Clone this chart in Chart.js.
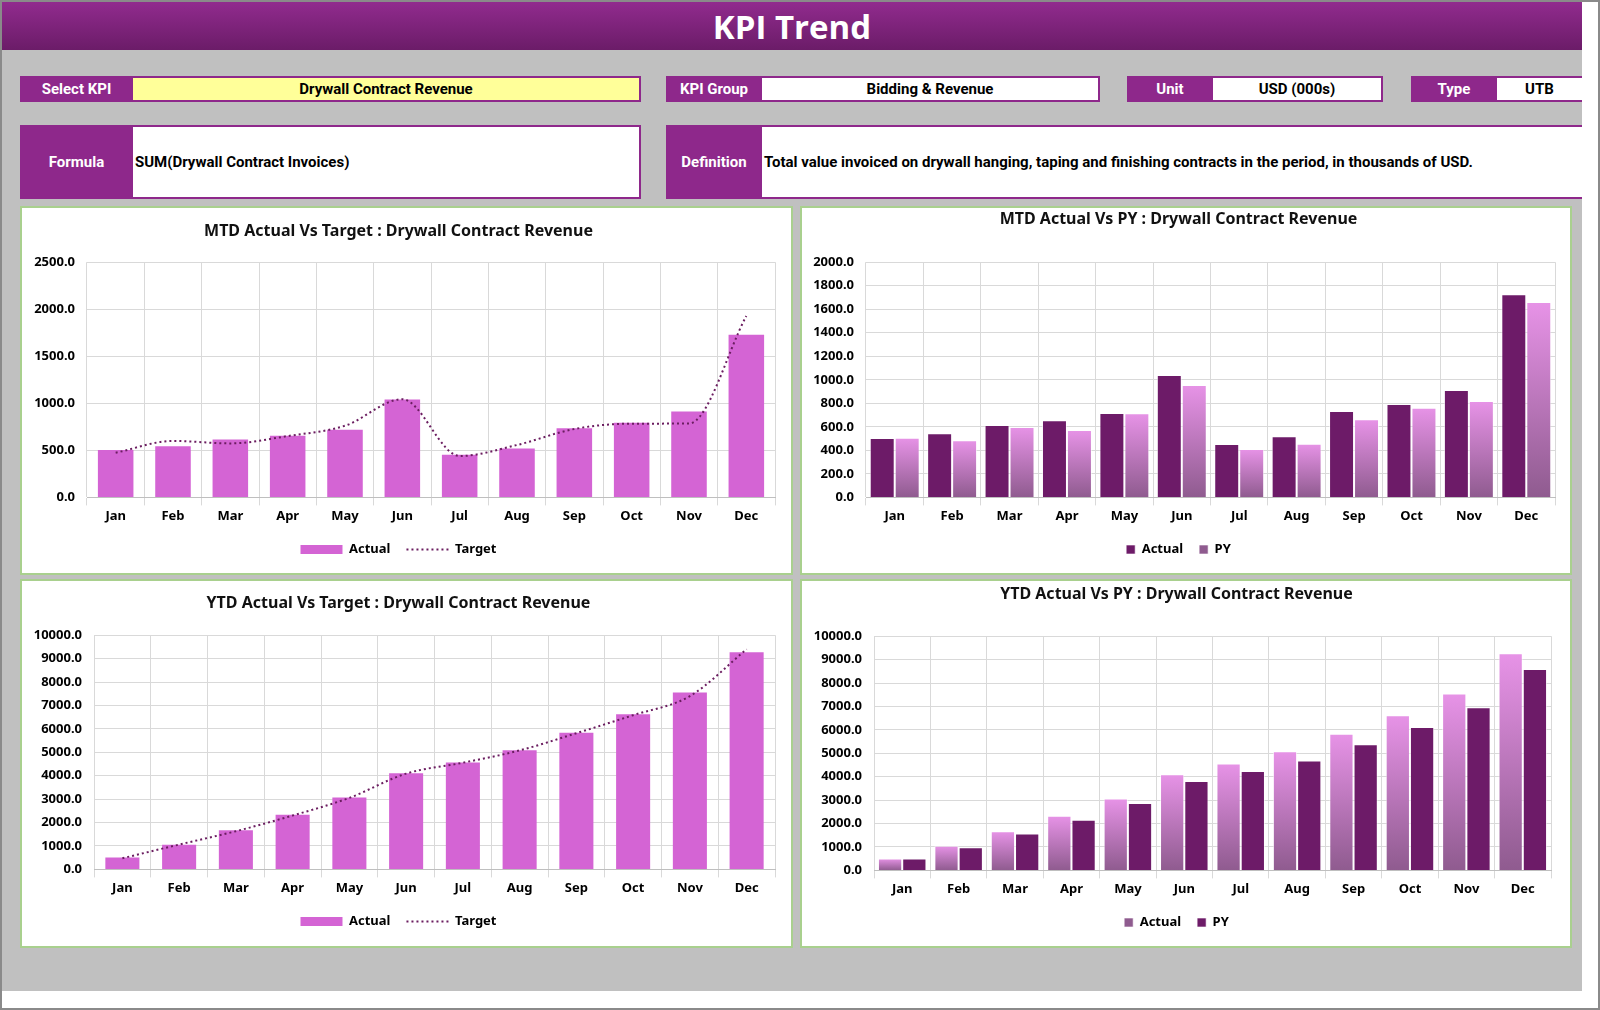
<!DOCTYPE html>
<html>
<head>
<meta charset="utf-8">
<script src="https://cdn.jsdelivr.net/npm/chart.js@4.4.1/dist/chart.umd.min.js"></script>
<style>
  html, body { margin: 0; padding: 0; background: #ffffff; }
  #frame { position: relative; width: 1600px; height: 1010px; box-sizing: border-box; border: 2px solid #8a8a8a; overflow: hidden; background: #fff; }
  #bg { position: absolute; left: 0; top: 0; width: 1580px; height: 989px; background: #c0c0c0; }
  #banner { position: absolute; left: 0; top: 0; width: 1580px; height: 48px; background: linear-gradient(#912b8e, #6b1c68); color: #fff; font-family: 'Open Sans', 'Noto Sans', sans-serif; font-weight: 700; font-size: 33px; text-align: center; line-height: 50px; }
  .lab { position: absolute; background: #8e288b; color: #fff; font-family: 'Liberation Sans Narrow', 'Roboto', sans-serif; font-weight: 700; font-size: 15px; display: flex; align-items: center; justify-content: center; box-sizing: border-box; }
  .val { position: absolute; background: #fff; color: #000; font-family: 'Liberation Sans Narrow', 'Roboto', sans-serif; font-weight: 700; font-size: 15px; display: flex; align-items: center; justify-content: center; box-sizing: border-box; border: 2px solid #8e288b; border-left: none; }
  .val.left { justify-content: flex-start; padding-left: 2px; }
  .panel { position: absolute; background: #fff; border: 2px solid #a9d08e; box-sizing: border-box; }
  .panel canvas { position: absolute; left: 0; top: 0; }
</style>
</head>
<body>
<div id="frame">
  <div id="bg"></div>
  <div id="banner">KPI Trend</div>

  <div class="lab" style="left:18px;top:74px;width:113px;height:26px;">Select KPI</div>
  <div class="val" style="left:131px;top:74px;width:508px;height:26px;background:#ffff99;">Drywall Contract Revenue</div>

  <div class="lab" style="left:664px;top:74px;width:96px;height:26px;">KPI Group</div>
  <div class="val" style="left:760px;top:74px;width:338px;height:26px;">Bidding &amp; Revenue</div>

  <div class="lab" style="left:1125px;top:74px;width:86px;height:26px;">Unit</div>
  <div class="val" style="left:1211px;top:74px;width:170px;height:26px;">USD (000s)</div>

  <div class="lab" style="left:1409px;top:74px;width:86px;height:26px;">Type</div>
  <div class="val" style="left:1495px;top:74px;width:85px;height:26px;border-right:none;">UTB</div>

  <div class="lab" style="left:18px;top:123px;width:113px;height:74px;">Formula</div>
  <div class="val left" style="left:131px;top:123px;width:508px;height:74px;">SUM(Drywall Contract Invoices)</div>

  <div class="lab" style="left:664px;top:123px;width:96px;height:74px;">Definition</div>
  <div class="val left" style="left:760px;top:123px;width:820px;height:74px;border-right:none;">Total value invoiced on drywall hanging, taping and finishing contracts in the period, in thousands of USD.</div>

  <div class="panel" style="left:18px;top:204px;width:773px;height:369px;"><canvas id="c1"></canvas></div>
  <div class="panel" style="left:798px;top:204px;width:772px;height:369px;"><canvas id="c2"></canvas></div>
  <div class="panel" style="left:18px;top:577px;width:773px;height:369px;"><canvas id="c3"></canvas></div>
  <div class="panel" style="left:798px;top:577px;width:772px;height:369px;"><canvas id="c4"></canvas></div>
</div>

<script>
// ---------------- DATA ----------------
const months = ['Jan','Feb','Mar','Apr','May','Jun','Jul','Aug','Sep','Oct','Nov','Dec'];

const mtdActual = [505, 545, 616, 655, 718, 1041, 454, 519, 735, 794, 913, 1728];
const mtdTarget = [475, 600, 574, 652, 762, 1043, 440, 557, 727, 784, 785, 1929];
const mtdPY     = [508, 485, 599, 573, 715, 956, 411, 457, 664, 763, 820, 1662];

const ytdActual = [510, 1055, 1668, 2330, 3065, 4105, 4560, 5085, 5835, 6625, 7550, 9270];
const ytdTarget = [475, 1060, 1630, 2300, 3055, 4090, 4555, 5080, 5815, 6585, 7400, 9400];
const ytdPY     = [508, 987, 1580, 2158, 2877, 3822, 4245, 4697, 5388, 6121, 6968, 8604];

const mtdTargetAxis = { max: 2500, step: 500 };
const mtdPYAxis     = { max: 2000, step: 200 };
const ytdAxis       = { max: 10000, step: 1000 };

const titles = [
  'MTD Actual Vs Target : Drywall Contract Revenue',
  'MTD Actual Vs PY : Drywall Contract Revenue',
  'YTD Actual Vs Target : Drywall Contract Revenue',
  'YTD Actual Vs PY : Drywall Contract Revenue'
];

// ---------------- STYLE ----------------
const FONT = "'Noto Sans', 'Open Sans', sans-serif";
const ORCHID = '#d464d4';
const PLUM = '#6d1b68';
const TARGET = '#6b1d60';
const GRID = '#d9d9d9';
const DASH = [2, 3];

function barGradient(ctx) {
  const chart = ctx.chart;
  if (!chart.chartArea || ctx.type !== 'data') return '#c47cc4';
  const y = chart.scales.y;
  const top = y.getPixelForValue(ctx.raw);
  const base = y.getPixelForValue(0);
  const g = chart.ctx.createLinearGradient(0, top, 0, Math.max(base, top + 1));
  g.addColorStop(0, '#e793e7');
  g.addColorStop(1, '#8f5b8f');
  return g;
}

function legendLabels(chart) {
  const items = Chart.defaults.plugins.legend.labels.generateLabels(chart);
  items.forEach(it => {
    if (it.text === 'Target') { it.lineDash = DASH; it.lineWidth = 2; it.strokeStyle = TARGET; }
  });
  return items;
}

function makeScales(axis, yWidth) {
  return {
    x: {
      grid: { offset: true, color: GRID, tickLength: 8, drawTicks: true },
      border: { color: '#bfbfbf' },
      ticks: { color: '#000', font: { family: FONT, size: 13, weight: 'bold' }, padding: 3 }
    },
    y: {
      min: 0, max: axis.max,
      afterFit: s => { s.width = yWidth; },
      grid: { color: GRID, drawTicks: false },
      border: { display: false },
      ticks: { stepSize: axis.step, padding: 12, color: '#000', font: { family: FONT, size: 13, weight: 'bold' },
               callback: v => Number(v).toFixed(1) }
    }
  };
}

function makePlugins(title, tTop, tBot, boxW, usePoint) {
  return {
    title: { display: true, text: title, color: '#111', font: { family: FONT, size: 16, weight: 'bold' }, padding: { top: tTop, bottom: tBot } },
    legend: {
      position: 'bottom',
      labels: {
        color: '#000', font: { family: FONT, size: 13, weight: 'bold' },
        usePointStyle: usePoint, pointStyleWidth: usePoint ? boxW : undefined,
        boxWidth: boxW, boxHeight: 9, padding: 16,
        generateLabels: legendLabels,
        sort: (a, b) => (a.text === 'Actual' ? -1 : (b.text === 'Actual' ? 1 : 0))
      }
    },
    tooltip: { enabled: false }
  };
}

function sizeCanvas(id) {
  const c = document.getElementById(id);
  const p = c.parentElement;
  c.style.width = (p.clientWidth) + 'px';
  c.style.height = (p.clientHeight) + 'px';
  return c;
}

// Chart 1: MTD Actual vs Target
new Chart(sizeCanvas('c1'), {
  data: {
    labels: months,
    datasets: [
      { type: 'line', label: 'Target', data: mtdTarget, borderColor: TARGET, borderWidth: 2, borderDash: DASH,
        pointRadius: 0, cubicInterpolationMode: 'monotone', fill: false, order: 0, pointStyle: 'line', backgroundColor: TARGET },
      { type: 'bar', label: 'Actual', data: mtdActual, backgroundColor: ORCHID, barPercentage: 0.62, categoryPercentage: 1,
        order: 1, pointStyle: 'rect' }
    ]
  },
  options: {
    responsive: false, animation: false, devicePixelRatio: 1,
    layout: { padding: { left: 0, right: 16, top: 0, bottom: 7 } },
    scales: makeScales(mtdTargetAxis, 65),
    plugins: makePlugins(titles[0], 14, 21, 42, true)
  }
});

// Chart 2: MTD Actual vs PY
new Chart(sizeCanvas('c2'), {
  type: 'bar',
  data: {
    labels: months,
    datasets: [
      { label: 'Actual', data: mtdActual, backgroundColor: PLUM, borderColor: 'rgba(255,255,255,0.6)', borderWidth: 1,
        barPercentage: 1, categoryPercentage: 0.87 },
      { label: 'PY', data: mtdPY, backgroundColor: barGradient, borderColor: 'rgba(255,255,255,0.6)', borderWidth: 1,
        barPercentage: 1, categoryPercentage: 0.87 }
    ]
  },
  options: {
    responsive: false, animation: false, devicePixelRatio: 1,
    layout: { padding: { left: 0, right: 15, top: 0, bottom: 7 } },
    scales: makeScales(mtdPYAxis, 64),
    plugins: makePlugins(titles[1], 2, 33, 9, false)
  }
});

// Chart 3: YTD Actual vs Target
new Chart(sizeCanvas('c3'), {
  data: {
    labels: months,
    datasets: [
      { type: 'line', label: 'Target', data: ytdTarget, borderColor: TARGET, borderWidth: 2, borderDash: DASH,
        pointRadius: 0, cubicInterpolationMode: 'monotone', fill: false, order: 0, pointStyle: 'line', backgroundColor: TARGET },
      { type: 'bar', label: 'Actual', data: ytdActual, backgroundColor: ORCHID, barPercentage: 0.6, categoryPercentage: 1,
        order: 1, pointStyle: 'rect' }
    ]
  },
  options: {
    responsive: false, animation: false, devicePixelRatio: 1,
    layout: { padding: { left: 0, right: 16, top: 0, bottom: 8 } },
    scales: makeScales(ytdAxis, 72),
    plugins: makePlugins(titles[2], 13, 22, 42, true)
  }
});

// Chart 4: YTD Actual vs PY
new Chart(sizeCanvas('c4'), {
  type: 'bar',
  data: {
    labels: months,
    datasets: [
      { label: 'Actual', data: ytdActual, backgroundColor: barGradient, borderColor: 'rgba(255,255,255,0.6)', borderWidth: 1,
        barPercentage: 1, categoryPercentage: 0.86 },
      { label: 'PY', data: ytdPY, backgroundColor: PLUM, borderColor: 'rgba(255,255,255,0.6)', borderWidth: 1,
        barPercentage: 1, categoryPercentage: 0.86 }
    ]
  },
  options: {
    responsive: false, animation: false, devicePixelRatio: 1,
    layout: { padding: { left: 0, right: 19, top: 0, bottom: 7 } },
    scales: makeScales(ytdAxis, 72),
    plugins: makePlugins(titles[3], 4, 32, 9, false)
  }
});
</script>
</body>
</html>
